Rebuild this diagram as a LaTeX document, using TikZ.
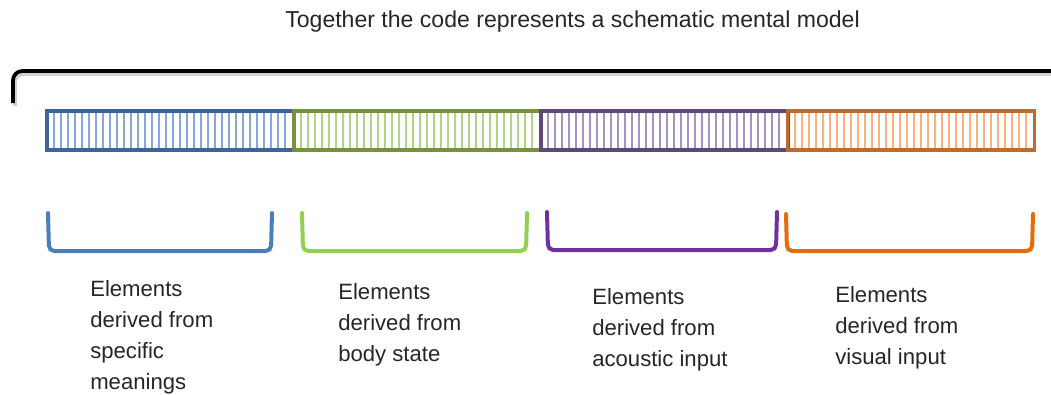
\documentclass[tikz,border=0pt]{standalone}
\usepackage{fontspec}
\setmainfont{Liberation Sans}
\definecolor{bBorder}{HTML}{3D639A}
\definecolor{bStripe}{HTML}{86A8D8}
\definecolor{gBorder}{HTML}{76923C}
\definecolor{gStripe}{HTML}{B3D386}
\definecolor{pBorder}{HTML}{5F497A}
\definecolor{pStripe}{HTML}{A693C6}
\definecolor{oBorder}{HTML}{BE6C2C}
\definecolor{oStripe}{HTML}{FAB37A}
\definecolor{bBr}{HTML}{4A7EBB}
\definecolor{gBr}{HTML}{92D050}
\definecolor{pBr}{HTML}{7030A0}
\definecolor{oBr}{HTML}{E46C0A}
\begin{document}
\begin{tikzpicture}[x=0.75pt,y=-0.75pt,
  segbox/.style={draw=#1,line width=2.6pt,rectangle,inner sep=0pt,
    minimum width=185.25pt,minimum height=29.25pt},
  stripe/.style={draw=#1,line width=1.1pt},
  bracket/.style={draw=#1,line width=3pt,rounded corners=4pt,line cap=round},
  label/.style={align=left,anchor=north west,inner sep=0pt,
    font=\fontsize{16.6pt}{23.25pt}\selectfont,text=black!85}]
\useasboundingbox (0,0) rectangle (1051,394);
% title
\node[font=\fontsize{17.3pt}{20pt}\selectfont,text=black!85,anchor=base] (title) at (572.5,27) {Together the code represents a schematic mental model};
% top bracket with shadow
\draw[black!18,line width=3pt] (15,106) -- (15,76) to[rounded corners=6pt] (15,74) -- (1051,74);
\draw[line width=2.8pt,rounded corners=7pt] (13,103) -- (13,71) -- (1051,71);
% stripes
\foreach \x in {54,61,...,290} \draw[stripe=bStripe] (\x,113) -- (\x,148);
\foreach \x in {301,308,...,537} \draw[stripe=gStripe] (\x,113) -- (\x,148);
\foreach \x in {548,555,...,784} \draw[stripe=pStripe] (\x,113) -- (\x,148);
\foreach \x in {795,802,...,1031} \draw[stripe=oStripe] (\x,113) -- (\x,148);
% segments
\node[segbox=bBorder] (s1) at (170.5,130.5) {};
\node[segbox=gBorder] (s2) at (417.5,130.5) {};
\node[segbox=pBorder] (s3) at (664.5,130.5) {};
\node[segbox=oBorder] (s4) at (911,130.5) {};
% brackets
\draw[bracket=bBr] (48,213) -- (49,251) -- (271,251) -- (272,213);
\draw[bracket=gBr] (302,213) -- (303,251) -- (526,251) -- (527,213);
\draw[bracket=pBr] (547,212) -- (548,250) -- (776,250) -- (777,212);
\draw[bracket=oBr] (786,214) -- (787,251) -- (1032,251) -- (1033,214);
% labels
\node[label] (l1) at (90,280) {Elements\\derived from\\specific\\meanings};
\node[label] (l2) at (338,283) {Elements\\derived from\\body state};
\node[label] (l3) at (592,288) {Elements\\derived from\\acoustic input};
\node[label] (l4) at (835,286) {Elements\\derived from\\visual input};
\end{tikzpicture}
\end{document}
